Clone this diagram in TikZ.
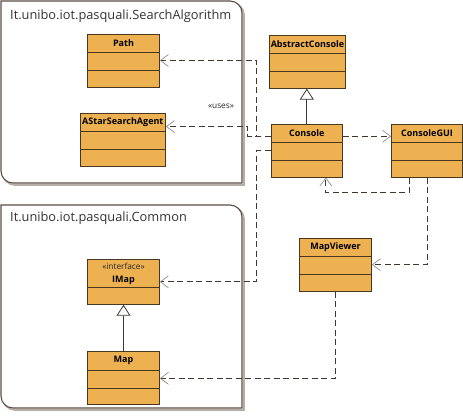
\documentclass[tikz,border=0pt]{standalone}
\usepackage{fontspec}
\setmainfont{Open Sans}
\usetikzlibrary{arrows.meta}
\definecolor{clsfill}{HTML}{EDB152}
\definecolor{clsborder}{HTML}{4A3720}
\definecolor{depline}{HTML}{3F3830}
\definecolor{deptip}{HTML}{808080}
\definecolor{pkgborder}{HTML}{5A4D42}
\definecolor{pkgshade}{HTML}{B8AEA6}
\newcommand{\clsfont}{\bfseries\fontsize{9}{10}\selectfont}
\newcommand{\stereofont}{\fontsize{8.3}{9}\selectfont}
\newcommand{\pkgfont}{\fontsize{12.8}{14}\selectfont}
\begin{document}
\begin{tikzpicture}[x=1pt,y=-1pt,
	cls/.style={draw=clsborder,fill=clsfill,line width=0.9pt,inner sep=0pt,minimum width=72pt,minimum height=53pt},
	clsname/.style={font=\clsfont,text=black,inner sep=0pt},
	stereo/.style={font=\stereofont,text=black!85,inner sep=0pt},
	sep/.style={draw=clsborder,line width=0.9pt},
	dep/.style={draw=depline,line width=0.8pt,dash pattern=on 6pt off 3.5pt,-{Straight Barb[length=8pt,width=12pt,color=deptip,line width=0.6pt]}},
	gen/.style={draw=depline,line width=0.8pt,-{Triangle[open,length=11pt,width=14pt,fill=white]}},
	pkg/.style={draw=pkgborder,line width=1.1pt},
	pkgshadow/.style={draw=pkgshade,line width=1.8pt},
	pkgname/.style={font=\pkgfont,text=black!80,anchor=west,inner sep=0pt}]
	\useasboundingbox (0,0) rectangle (463,419);

	\draw[pkgshadow] (3,3) -- (232,3) arc[start angle=-90,end angle=0,radius=12] -- (244,185) -- (15,185) arc[start angle=90,end angle=180,radius=12] -- cycle;
	\draw[pkg,fill=white] (1,1) -- (230,1) arc[start angle=-90,end angle=0,radius=12] -- (242,183) -- (13,183) arc[start angle=90,end angle=180,radius=12] -- cycle;
	\node[pkgname] (searchpkg) at (10,16) {It.unibo.iot.pasquali.SearchAlgorithm};

	\draw[pkgshadow] (3,207) -- (232,207) arc[start angle=-90,end angle=0,radius=12] -- (244,410) -- (15,410) arc[start angle=90,end angle=180,radius=12] -- cycle;
	\draw[pkg,fill=white] (1,205) -- (230,205) arc[start angle=-90,end angle=0,radius=12] -- (242,408) -- (13,408) arc[start angle=90,end angle=180,radius=12] -- cycle;
	\node[pkgname] (commonpkg) at (10,218) {It.unibo.iot.pasquali.Common};

	\node[cls] (path) at (123.5,60.5) {};
	\node[clsname] (pathname) at ([yshift=-9.5pt]path.north) {Path};
	\draw[sep] ([yshift=-19pt]path.north west) -- ([yshift=-19pt]path.north east);
	\draw[sep] ([yshift=17pt]path.south west) -- ([yshift=17pt]path.south east);

	\node[cls,minimum width=85.5pt] (astar) at (122.8,139.5) {};
	\node[clsname] (astarname) at ([yshift=-9.5pt]astar.north) {AStarSearchAgent};
	\draw[sep] ([yshift=-19pt]astar.north west) -- ([yshift=-19pt]astar.north east);
	\draw[sep] ([yshift=17pt]astar.south west) -- ([yshift=17pt]astar.south east);

	\node[cls,minimum width=76.5pt] (abstractconsole) at (307.5,61.7) {};
	\node[clsname] (abstractconsolename) at ([yshift=-9.5pt]abstractconsole.north) {AbstractConsole};
	\draw[sep] ([yshift=-19pt]abstractconsole.north west) -- ([yshift=-19pt]abstractconsole.north east);
	\draw[sep] ([yshift=17pt]abstractconsole.south west) -- ([yshift=17pt]abstractconsole.south east);

	\node[cls,minimum width=71pt] (console) at (306.8,150.7) {};
	\node[clsname] (consolename) at ([yshift=-9.5pt]console.north) {Console};
	\draw[sep] ([yshift=-19pt]console.north west) -- ([yshift=-19pt]console.north east);
	\draw[sep] ([yshift=17pt]console.south west) -- ([yshift=17pt]console.south east);

	\node[cls,minimum width=71pt] (consolegui) at (427,150.7) {};
	\node[clsname] (consoleguiname) at ([yshift=-9.5pt]consolegui.north) {ConsoleGUI};
	\draw[sep] ([yshift=-19pt]consolegui.north west) -- ([yshift=-19pt]consolegui.north east);
	\draw[sep] ([yshift=17pt]consolegui.south west) -- ([yshift=17pt]consolegui.south east);

	\node[cls] (mapviewer) at (335.5,264.7) {};
	\node[clsname] (mapviewername) at ([yshift=-9.5pt]mapviewer.north) {MapViewer};
	\draw[sep] ([yshift=-19pt]mapviewer.north west) -- ([yshift=-19pt]mapviewer.north east);
	\draw[sep] ([yshift=17pt]mapviewer.south west) -- ([yshift=17pt]mapviewer.south east);

	\node[cls,minimum height=45pt] (imap) at (123.5,281.8) {};
	\node[stereo] (imapstereo) at ([yshift=-7.5pt]imap.north) {«interface»};
	\node[clsname] (imapname) at ([yshift=-21.5pt]imap.north) {IMap};
	\draw[sep] ([yshift=17pt]imap.south west) -- ([yshift=17pt]imap.south east);

	\node[cls] (map) at (123.5,378.3) {};
	\node[clsname] (mapname) at ([yshift=-9.5pt]map.north) {Map};
	\draw[sep] ([yshift=-19pt]map.north west) -- ([yshift=-19pt]map.north east);
	\draw[sep] ([yshift=17pt]map.south west) -- ([yshift=17pt]map.south east);

	\draw[gen] (console.north) -- (console.north |- abstractconsole.south);
	\draw[gen] (map.north) -- (imap.south);

	\draw[dep] ([yshift=-12.5pt]console.north west) -- ++(-14,0) |- (path.east);
	\draw[dep] ([yshift=-12.5pt]console.north west) -- ++(-23,0) |- ([yshift=-14pt]astar.north east);
	\node[stereo] (uses) at (221,106) {«uses»};
	\draw[dep] ([yshift=-27pt]console.north west) -- ++(-14,0) |- (imap.east);
	\draw[dep] ([yshift=-12.5pt]console.north east) -- ([yshift=-12.5pt]consolegui.north west);
	\draw[dep] ([xshift=18pt]consolegui.south west) -- ++(0,15) -| ([xshift=19pt]console.south);
	\draw[dep] (consolegui.south) |- (mapviewer.east);
	\draw[dep] (mapviewer.south) |- (map.east);
\end{tikzpicture}
\end{document}
